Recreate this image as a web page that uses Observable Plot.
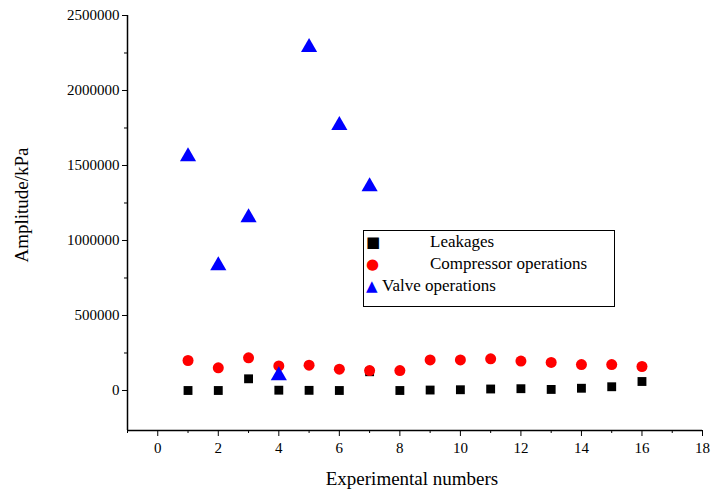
<!DOCTYPE html>
<html><head>
<script src="https://cdn.jsdelivr.net/npm/d3@7"></script>
<script src="https://cdn.jsdelivr.net/npm/@observablehq/plot@0.6"></script>
<style>
body{margin:0;background:#fff;}
#wrap, #wrap *, svg text{font-family:"Liberation Serif","Times New Roman","DejaVu Serif",serif !important;}
#wrap{position:relative;width:711px;height:492px;}
#legend{position:absolute;left:363px;top:230px;width:250px;height:75px;border:1px solid #000;background:#fff;font-size:17px;}
#legend div{position:absolute;white-space:nowrap;}
#legend .sym{font-family:"DejaVu Sans",sans-serif !important;}
</style>
</head><body><div id="wrap"></div>
<script>
const experiments = d3.range(1,17);
const leakages = [0,0,78000,2000,1000,0,125000,0,3000,5000,10000,12000,7000,15000,25000,60000];
const compressor = [200000,151000,218000,164000,169000,142000,133000,133000,204000,204000,211000,196000,187000,173000,173000,160000];
const valveX = [1,2,3,4,5,6,7];
const valve = [1560000,833000,1153000,100000,2287000,1767000,1360000];
const xMajor = [0,2,4,6,8,10,12,14,16,18];
const xMinor = [-1,1,3,5,7,9,11,13,15,17];
const yMajor = [0,500000,1000000,1500000,2000000,2500000];
const yMinor = [250000,750000,1250000,1750000,2250000];

const L = experiments.map((x,i)=>({x,y:leakages[i]}));
const C = experiments.map((x,i)=>({x,y:compressor[i]}));
const V = valveX.map((x,i)=>({x,y:valve[i]}));

const plot = Plot.plot({
  width:711,height:492,marginLeft:127,marginRight:9,marginTop:15,marginBottom:62,
  style:{fontSize:"15px",color:"#000",background:"#fff"},
  x:{domain:[-1,18],label:null},
  y:{domain:[-266667,2500000],label:null},
  marks:[
    Plot.axisX({ticks:xMajor,tickSize:6,tickPadding:6,fontSize:15,tickFormat:d=>d}),
    Plot.axisX({ticks:xMinor,tickSize:3,tickFormat:()=>""}),
    Plot.axisY({ticks:yMajor,tickSize:5,tickPadding:3,fontSize:15,tickFormat:d=>String(d)}),
    Plot.axisY({ticks:yMinor,tickSize:3,tickFormat:()=>""}),
    Plot.ruleX([-1],{stroke:"#000",strokeWidth:1.5}),
    Plot.ruleY([-266667],{stroke:"#000",strokeWidth:1.5}),
    Plot.dot(L,{x:"x",y:"y",symbol:"square",fill:"#000",r:5}),
    Plot.dot(C,{x:"x",y:"y",symbol:"circle",fill:"#ff0000",r:5.5}),
    Plot.dot(V,{x:"x",y:"y",symbol:"triangle",fill:"#0000ff",r:6})
  ]
});
const wrap=document.getElementById("wrap");
wrap.appendChild(plot);
function txt(s,css){const d=document.createElement("div");d.textContent=s;d.style.cssText="position:absolute;font-size:19px;white-space:nowrap;"+css;wrap.appendChild(d);}
txt("Experimental numbers","left:412px;top:468px;transform:translateX(-50%);");
txt("Amplitude/kPa","left:22px;top:205px;transform:translate(-50%,-50%) rotate(-90deg);");
const leg=document.createElement("div");leg.id="legend";wrap.appendChild(leg);
const items=[["Leakages","■","#000",12],["Compressor operations","●","#f00",34],["Valve operations","▲","#00f",56]];
items.forEach(([n,s,c,ty])=>{
  const sym=document.createElement("div");sym.className="sym";sym.textContent=s;sym.style.cssText=`left:2px;top:${ty-10}px;color:${c};font-size:15px;`;leg.appendChild(sym);
  const t=document.createElement("div");t.textContent=n;t.style.cssText=`left:${n==="Valve operations"?18:66}px;top:${ty-11}px;`;leg.appendChild(t);
});
</script></body></html>
